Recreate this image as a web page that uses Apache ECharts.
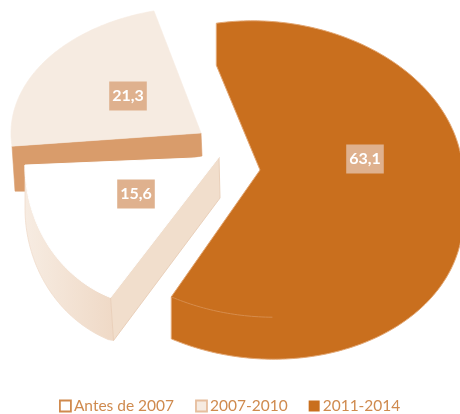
<!DOCTYPE html>
<html>
<head>
<meta charset="utf-8">
<style>html,body{margin:0;padding:0;background:#fff}#c{width:460px;height:414px;filter:blur(0.5px)}</style>
<script src="https://cdn.jsdelivr.net/npm/echarts@6/dist/echarts.min.js"></script>
</head>
<body>
<div id="c"></div>
<script>
var categories = ['Antes de 2007', '2007-2010', '2011-2014'];
var seriesValues = [15.6, 21.3, 63.1];

// Tilted-pie projection for each category (no data here: geometry only)
var projections = [
  {ax:219,ay:157,cx:155,cy:165,rx:130,ry:141,skew:0,start:200,stretch:1.246,depth:43,labelX:136,labelY:194},
  {ax:201,ay:133,cx:201,cy:133,rx:190,ry:126,skew:0,start:264,stretch:1.065,depth:45,labelX:128,labelY:96},
  {ax:260,ay:170,cx:263,cy:169,rx:200,ry:148,skew:0.04,start:-13.5,stretch:0.972,depth:42,labelX:365,labelY:159}
];
var legendIconStyles = [
  {color:'#ffffff',borderColor:'#D08A4E',borderWidth:1.8},
  {color:'#F6EBE1',borderColor:'#E6BE9E',borderWidth:1.8},
  {color:'#C96F1E',borderColor:'#C96F1E',borderWidth:0}
];
var total = seriesValues.reduce(function(a,b){return a+b;},0);

function rim(p,deg,dy){
  var t=deg*Math.PI/180, sx=p.rx*Math.sin(t);
  return [p.cx+sx, p.cy-p.ry*Math.cos(t)+p.skew*sx+(dy||0)];
}
function arc(p,a,b,dy){
  var out=[],n=Math.max(2,Math.ceil(Math.abs(b-a)));
  for(var i=0;i<=n;i++) out.push(rim(p,a+(b-a)*i/n,dy));
  return out;
}
function poly(points,fill,stroke,w){
  return {type:'polygon',shape:{points:points},style:{fill:fill,stroke:stroke||fill,lineWidth:w==null?1:w}};
}
function valueLabel(p,v){
  return {type:'text',x:p.labelX,y:p.labelY,z2:50,style:{
    text:String(v).replace('.',','),fill:'#ffffff',
    font:'bold 16px Lato, sans-serif',align:'center',verticalAlign:'middle',
    backgroundColor:'#DFB18E',padding:[7,3,6,3]}};
}
function sweepOf(i){ return seriesValues[i]/total*360*projections[i].stretch; }

function renderWhite(params){
  var p=projections[0], s=p.start, e=s+sweepOf(0), apex=[p.ax,p.ay];
  var wallGrad={type:'linear',x:0,y:0,x2:1,y2:0,colorStops:[{offset:0,color:'#F7ECE2'},{offset:1,color:'#EFD9C6'}]};
  var start=rim(p,s), sl=rim(p,s,p.depth), startLow=[sl[0]+3,sl[1]];
  var lower=arc(p,e,s,p.depth); lower[lower.length-1]=startLow;
  return {type:'group',children:[
    poly(arc(p,s,e,0).concat(lower),wallGrad,'#F0DCCB',0.8),
    poly([apex,[apex[0]+1,apex[1]+41],startLow,start],'#F1DECC','#EAD0BA',1),
    poly([apex].concat(arc(p,s,e,0)),'#ffffff','#ffffff',1),
    valueLabel(p,seriesValues[0])
  ]};
}
function renderLight(params){
  var p=projections[1], s=p.start, e=s+sweepOf(1), apex=[p.ax,p.ay];
  return {type:'group',children:[
    poly([apex].concat(arc(p,s,e,0)),'#F6EBE1','#F6EBE1',0.6),
    valueLabel(p,seriesValues[1])
  ]};
}
function renderLightWall(params){
  var p=projections[1], apex=[p.ax,p.ay], st=rim(p,p.start);
  return {type:'group',children:[
    poly([apex,st,[st[0]+3,st[1]+p.depth],[st[0]+14,st[1]+p.depth],[apex[0]+1,apex[1]+23]],'#D99C6B','#D99C6B',0.6)
  ]};
}
function renderBig(params){
  var p=projections[2], s=p.start, e=s+sweepOf(2), apex=[p.ax,p.ay], turn=92;
  var st=rim(p,s), en=rim(p,e);
  var outline=arc(p,s,turn,0).concat(arc(p,turn,e,p.depth));
  outline.push(en,apex,[st[0],st[1]+p.depth]);
  return {type:'group',children:[
    {type:'polygon',shape:{points:outline},style:{fill:'#C96F1E',stroke:'#E3A875',lineWidth:1}},
    {type:'polyline',shape:{points:arc(p,e,e-30,0)},style:{fill:null,stroke:'#D68C4C',lineWidth:1}},
    valueLabel(p,seriesValues[2])
  ]};
}
function customSeries(name,value,color,render,z){
  return {type:'custom',name:name,coordinateSystem:'none',z:z,silent:true,
    itemStyle:{color:color},data:value==null?[]:[value],renderItem:render};
}
var chart=echarts.init(document.getElementById('c'),null,{renderer:'canvas'});
chart.setOption({
  animation:false,
  backgroundColor:'#ffffff',
  legend:{
    left:59,top:398,padding:0,itemWidth:11,itemHeight:11,itemGap:21,icon:'rect',selectedMode:false,
    textStyle:{color:'#CF8A4E',fontFamily:'Lato, sans-serif',fontSize:15.5,padding:[0,0,0,-2]},
    data:categories.map(function(n,i){return {name:n,icon:'rect',itemStyle:legendIconStyles[i]};})
  },
  series:[
    customSeries('wall',seriesValues[1],'#D99C6B',renderLightWall,1),
    customSeries(categories[0],seriesValues[0],'#ffffff',renderWhite,2),
    customSeries(categories[1],seriesValues[1],'#F6EBE1',renderLight,3),
    customSeries(categories[2],seriesValues[2],'#C96F1E',renderBig,4)
  ]
});
</script>
</body>
</html>
